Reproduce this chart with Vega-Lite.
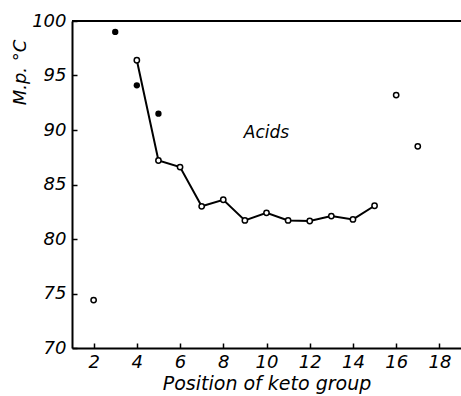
{
  "$schema": "https://vega.github.io/schema/vega-lite/v6.json",
  "width": 389,
  "height": 327,
  "autosize": {"type": "none"},
  "padding": {"left": 72, "top": 21, "right": 0, "bottom": 48},
  "background": "white",
  "config": {
    "view": {"stroke": null},
    "font": "DejaVu Sans",
    "axis": {
      "domainColor": "black",
      "domainWidth": 2,
      "tickColor": "black",
      "tickWidth": 1.5,
      "grid": false,
      "labelFont": "DejaVu Sans",
      "labelFontStyle": "italic",
      "labelFontSize": 18,
      "labelColor": "black",
      "titleFont": "DejaVu Sans",
      "titleFontStyle": "italic",
      "titleFontWeight": "normal",
      "titleColor": "black"
    }
  },
  "data": {
    "values": [
      {"pos": 4, "mp": 96.4, "kind": "curve"},
      {"pos": 5, "mp": 87.2, "kind": "curve"},
      {"pos": 6, "mp": 86.6, "kind": "curve"},
      {"pos": 7, "mp": 83.0, "kind": "curve"},
      {"pos": 8, "mp": 83.6, "kind": "curve"},
      {"pos": 9, "mp": 81.7, "kind": "curve"},
      {"pos": 10, "mp": 82.4, "kind": "curve"},
      {"pos": 11, "mp": 81.7, "kind": "curve"},
      {"pos": 12, "mp": 81.65, "kind": "curve"},
      {"pos": 13, "mp": 82.1, "kind": "curve"},
      {"pos": 14, "mp": 81.8, "kind": "curve"},
      {"pos": 15, "mp": 83.05, "kind": "curve"},
      {"pos": 2, "mp": 74.4, "kind": "open"},
      {"pos": 16, "mp": 93.2, "kind": "open"},
      {"pos": 17, "mp": 88.5, "kind": "open"},
      {"pos": 3, "mp": 99.0, "kind": "filled"},
      {"pos": 4, "mp": 94.1, "kind": "filled"},
      {"pos": 5, "mp": 91.5, "kind": "filled"}
    ]
  },
  "encoding": {
    "x": {
      "field": "pos", "type": "quantitative",
      "scale": {"domain": [1, 19], "nice": false, "zero": false},
      "axis": {
        "values": [2, 4, 6, 8, 10, 12, 14, 16, 18],
        "tickSize": -5,
        "labelPadding": 10,
        "title": "Position of keto group",
        "titleFontSize": 19,
        "titleY": 26,
        "titleBaseline": "top"
      }
    },
    "y": {
      "field": "mp", "type": "quantitative",
      "scale": {"domain": [70, 100], "nice": false, "zero": false},
      "axis": {
        "values": [70, 75, 80, 85, 90, 95, 100],
        "tickSize": -5,
        "labelPadding": 11,
        "title": "M.p. °C",
        "titleFontSize": 18,
        "titleAngle": -90,
        "titleX": -52,
        "titleY": 51,
        "titleAlign": "center",
        "titleBaseline": "middle"
      }
    }
  },
  "layer": [
    {
      "mark": {"type": "rule", "color": "black", "strokeWidth": 2},
      "encoding": {"y": {"datum": 100}, "x": {"value": 0}, "x2": {"value": 389}}
    },
    {
      "transform": [{"filter": "datum.kind === 'curve'"}],
      "mark": {"type": "line", "color": "black", "strokeWidth": 2}
    },
    {
      "transform": [{"filter": "datum.kind !== 'filled'"}],
      "mark": {"type": "point", "shape": "circle", "filled": false, "fill": "white", "stroke": "black", "strokeWidth": 1.5, "size": 28, "opacity": 1}
    },
    {
      "transform": [{"filter": "datum.kind === 'filled'"}],
      "mark": {"type": "point", "shape": "circle", "filled": true, "color": "black", "size": 40, "opacity": 1}
    },
    {
      "data": {"values": [{"pos": 10, "mp": 89.7, "label": "Acids"}]},
      "mark": {"type": "text", "font": "DejaVu Sans", "fontStyle": "italic", "fontSize": 17, "color": "black"},
      "encoding": {"text": {"field": "label"}}
    }
  ]
}
